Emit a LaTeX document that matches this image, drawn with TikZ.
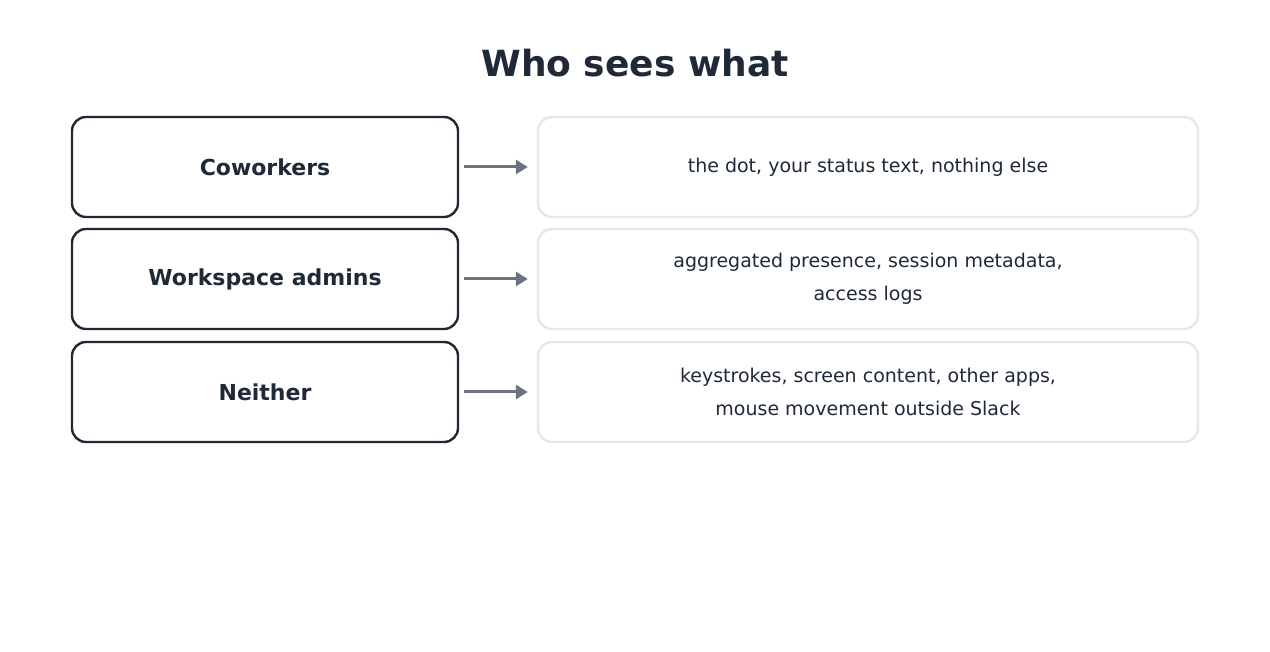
\documentclass[tikz,border=0pt]{standalone}
\usepackage{fontspec}
\setmainfont{DejaVu Sans}
\usetikzlibrary{arrows.meta}
\definecolor{ink}{HTML}{1F2937}
\definecolor{arr}{HTML}{6B7280}
\definecolor{lite}{HTML}{E5E7EB}
\begin{document}
\begin{tikzpicture}[x=1pt,y=-1pt,
  lbox/.style={draw=ink,line width=2.4pt,rounded corners=14pt,minimum width=386pt,minimum height=100pt,text=ink,font=\fontsize{22}{26}\selectfont\bfseries,inner sep=0pt},
  rbox/.style={draw=lite,line width=2.4pt,rounded corners=14pt,minimum width=660pt,minimum height=100pt,text=ink,font=\fontsize{19}{33}\selectfont,align=center,inner sep=0pt},
  ar/.style={draw=arr,line width=3pt,-{Triangle[length=12pt,width=14pt]}}]
\useasboundingbox[fill=white] (0,0) rectangle (1270,652);
\node[text=ink,font=\fontsize{36}{40}\selectfont\bfseries] (title) at (635,63) {Who sees what};
\node[lbox] (l1) at (265,167) {Coworkers};
\node[lbox] (l2) at (265,279) {Workspace admins};
\node[lbox] (l3) at (265,392) {Neither};
\node[rbox] (r1) at (868,167) {the dot, your status text, nothing else};
\node[rbox] (r2) at (868,279) {aggregated presence, session metadata,\\access logs};
\node[rbox] (r3) at (868,392) {keystrokes, screen content, other apps,\\mouse movement outside Slack};
\foreach \i in {1,2,3}{\draw[ar] ([xshift=5pt]l\i.east) -- ([xshift=-9pt]r\i.west);}
\end{tikzpicture}
\end{document}
